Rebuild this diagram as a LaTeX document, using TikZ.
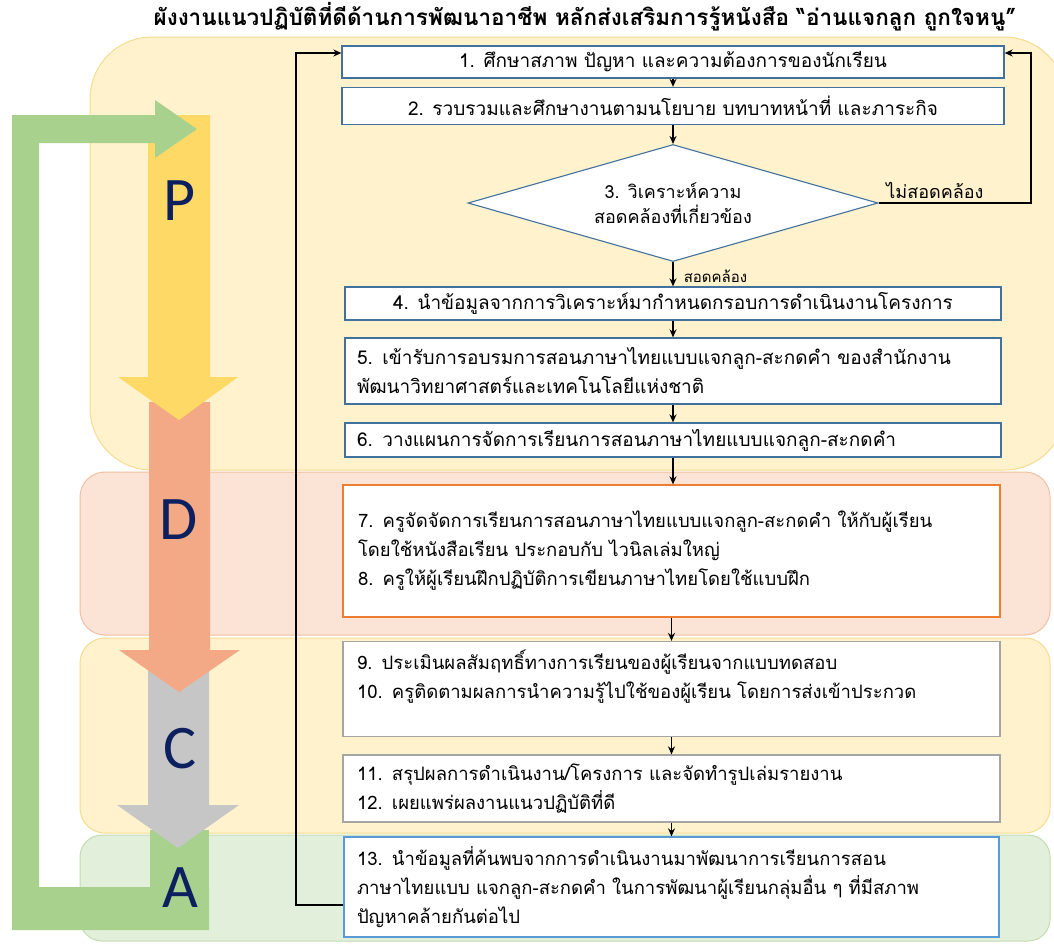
\documentclass[tikz,border=0pt]{standalone}
\usepackage{fontspec}
\newfontfamily\thai[Script=Thai]{Loma}
\newfontfamily\latn{Carlito}
\usetikzlibrary{shapes.geometric,arrows.meta,calc}
\definecolor{pfill}{HTML}{FFF2CC}
\definecolor{pdraw}{HTML}{F7DC8F}
\definecolor{dfill}{HTML}{FBE3D6}
\definecolor{ddraw}{HTML}{F2BFA0}
\definecolor{afill}{HTML}{E2EFDA}
\definecolor{adraw}{HTML}{C3DDB1}
\definecolor{yarrow}{HTML}{FFD966}
\definecolor{sarrow}{HTML}{F4A986}
\definecolor{garrow}{HTML}{C6C6C6}
\definecolor{grn}{HTML}{A9D18E}
\definecolor{navy}{HTML}{0C1F5E}
\definecolor{bblue}{HTML}{41719C}
\definecolor{borange}{HTML}{ED7D31}
\definecolor{bgray}{HTML}{A5A5A5}
\definecolor{lblue}{HTML}{5B9BD5}
\begin{document}
\begin{tikzpicture}[x=1pt,y=-1pt,
  panel/.style={line width=1pt, rounded corners=#1},
  box/.style={draw=bblue, fill=white, line width=1.3pt, inner xsep=12pt, inner ysep=0pt,
    font=\thai\fontsize{19}{29}\selectfont},
  lbox/.style={box, align=left, text width=#1},
  cbox/.style={lbox=#1, font=\thai\fontsize{18.5}{29}\selectfont},
  arr/.style={-{Stealth[length=8pt,width=7pt]}, line width=1.5pt, black},
  lbl/.style={font=\thai\fontsize{15}{17}\selectfont, inner sep=4pt},
  pdca/.style={text=navy, font=\latn\fontsize{62}{62}\selectfont, inner sep=0pt}
]
\useasboundingbox (0,0) rectangle (1054,943);
\fill[white] (0,0) rectangle (1054,943);

% panels
\draw[panel=62pt, fill=pfill, draw=pdraw] (90,37) rectangle (1066,470);
\draw[panel=25pt, fill=dfill, draw=ddraw] (80,472) rectangle (1050,635);
\draw[panel=25pt, fill=pfill, draw=pdraw] (80,638) rectangle (1050,833);
\draw[panel=22pt, fill=afill, draw=adraw] (80,835) rectangle (1050,941);

% PDCA arrows
\fill[grn] (150,830) rectangle (209,887);
\fill[garrow] (148,660) -- (209,660) -- (209,805) -- (239,805) -- (178,848) -- (117,805) -- (148,805) -- cycle;
\fill[sarrow] (149,402) -- (210,402) -- (210,650) -- (240,650) -- (179,692) -- (119,650) -- (149,650) -- cycle;
\fill[yarrow] (148,115) -- (210,115) -- (210,377) -- (238,377) -- (179,420) -- (118,377) -- (148,377) -- cycle;
% green loop arrow
\fill[grn] (12,115) -- (155,115) -- (155,100) -- (197,129) -- (155,158) -- (155,143)
  -- (39,143) -- (39,887) -- (209,887) -- (209,930) -- (12,930) -- cycle;

\node[pdca] (P) at (180,201) {P};
\node[pdca] (D) at (179,520) {D};
\node[pdca] (C) at (180,749) {C};
\node[pdca] (A) at (180,888) {A};

% title
\node[font=\thai\bfseries\fontsize{22.5}{24}\selectfont] (title) at (585,17)
  {ผังงานแนวปฏิบัติที่ดีด้านการพัฒนาอาชีพ หลักส่งเสริมการรู้หนังสือ “อ่านแจกลูก ถูกใจหนู”};

% boxes
\node[box, minimum width=662pt, minimum height=32pt] (b1) at (673,62)
  {1. ศึกษาสภาพ ปัญหา และความต้องการของนักเรียน};
\node[box, minimum width=662pt, minimum height=37pt] (b2) at (673,106)
  {2. รวบรวมและศึกษางานตามนโยบาย บทบาทหน้าที่ และภาระกิจ};
\node[diamond, aspect=3.5, draw=bblue, fill=white, line width=1.1pt, minimum width=410pt,
  minimum height=117pt, inner sep=0pt, align=center, font=\thai\fontsize{18}{25}\selectfont]
  (d3) at (673,203) {3. วิเคราะห์ความ\\สอดคล้องที่เกี่ยวข้อง};
\node[box, minimum width=656pt, minimum height=33pt] (b4) at (673,303.5)
  {4. นำข้อมูลจากการวิเคราะห์มากำหนดกรอบการดำเนินงานโครงการ};
\node[lbox=632pt, minimum height=66pt] (b5) at (673,371)
  {5. เข้ารับการอบรมการสอนภาษาไทยแบบแจกลูก-สะกดคำ ของสำนักงาน\\พัฒนาวิทยาศาสตร์และเทคโนโลยีแห่งชาติ};
\node[lbox=632pt, minimum height=34pt] (b6) at (673,440)
  {6. วางแผนการจัดการเรียนการสอนภาษาไทยแบบแจกลูก-สะกดคำ};
\node[cbox=627pt, draw=borange, inner xsep=15pt, minimum height=132pt] (b7) at (671.5,551)
  {7. ครูจัดจัดการเรียนการสอนภาษาไทยแบบแจกลูก-สะกดคำ ให้กับผู้เรียน\\โดยใช้หนังสือเรียน ประกอบกับ ไวนิลเล่มใหญ่\\8. ครูให้ผู้เรียนฝึกปฏิบัติการเขียนภาษาไทยโดยใช้แบบฝึก};
\node[cbox=629pt, draw=bgray, inner xsep=14pt, minimum height=95pt] (b9) at (671.5,689)
  {9. ประเมินผลสัมฤทธิ์ทางการเรียนของผู้เรียนจากแบบทดสอบ\\10. ครูติดตามผลการนำความรู้ไปใช้ของผู้เรียน โดยการส่งเข้าประกวด\\\mbox{}};
\node[cbox=629pt, draw=bgray, inner xsep=14pt, minimum height=67pt] (b11) at (671.5,788.5)
  {11. สรุปผลการดำเนินงาน/โครงการ และจัดทำรูปเล่มรายงาน\\12. เผยแพร่ผลงานแนวปฏิบัติที่ดี};
\node[cbox=629pt, draw=lblue, inner xsep=13pt, minimum height=100pt] (b13) at (671.5,887)
  {13. นำข้อมูลที่ค้นพบจากการดำเนินงานมาพัฒนาการเรียนการสอน\\ภาษาไทยแบบ แจกลูก-สะกดคำ ในการพัฒนาผู้เรียนกลุ่มอื่น ๆ ที่มีสภาพ\\ปัญหาคล้ายกันต่อไป};

% connectors
\draw[arr] (b1.south) -- (b2.north);
\draw[arr] (b2.south) -- (d3.north);
\draw[arr] (d3.south) -- node[right, lbl, xshift=6pt, yshift=-2pt] {สอดคล้อง} (b4.north);
\draw[arr] (b4.south) -- (b5.north);
\draw[arr] (b5.south) -- (b6.north);
\draw[arr] (b6.south) -- (b6.south |- b7.north);
\draw[arr] (b7.south) -- (b9.north);
\draw[arr] (b9.south) -- (b11.north);
\draw[arr] (b11.south) -- (b13.north);

\coordinate (rt) at (1031,203);
\draw[arr] (d3.east) -- node[above, pos=0.37, lbl, font=\thai\fontsize{18}{20}\selectfont] {ไม่สอดคล้อง} (d3.east -| rt) |- ($(b1.east)+(0,-9)$);
\coordinate (lf) at (296,905);
\draw[arr] ($(b13.west)+(0,18)$) -- (lf) |- ($(b1.west)+(0,-9)$);
\end{tikzpicture}
\end{document}
